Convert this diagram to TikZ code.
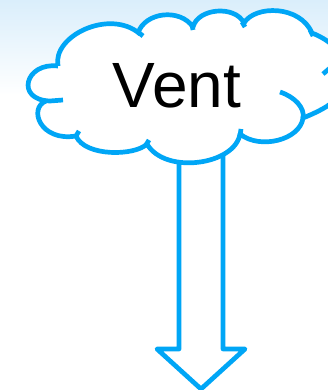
\documentclass[tikz,border=0pt]{standalone}
\usepackage{fontspec}
\setmainfont{Liberation Sans}
\definecolor{cloudblue}{RGB}{0,166,246}
\definecolor{skyblue}{RGB}{218,238,251}
\begin{document}
\begin{tikzpicture}[x=1pt,y=-1pt,
  cloudline/.style={draw=cloudblue, line width=4.7pt, line cap=butt, line join=round},
  arrowline/.style={draw=cloudblue, fill=white, line width=4.7pt, line join=round},
  labeltext/.style={font=\fontsize{64}{64}\selectfont, anchor=base, inner sep=0pt, text=black}]
\useasboundingbox (0,0) rectangle (328,390);
\clip (0,0) rectangle (328,390);
\fill[white] (0,0) rectangle (328,390);
\shade[top color=skyblue, bottom color=white] (0,0) rectangle (328,95);
% arrow
\coordinate (sl) at (179,150);
\coordinate (sr) at (223,150);
\filldraw[arrowline] (sl) -- (179,349) -- (157,349) -- (201,389) -- (245,349) -- (223,349) -- (sr);
% cloud fill
\fill[white]
  (58,66) .. controls (52,36) and (110,8) .. (140,34)
  -- (138,33) .. controls (145,12) and (180,8) .. (193,27)
  .. controls (198,8) and (235,5) .. (244,23)
  .. controls (255,5) and (300,5) .. (312,33)
  .. controls (335,42) and (350,60) .. (345,75)
  .. controls (345,95) and (335,105) .. (303,118)
  .. controls (300,140) and (260,150) .. (240,134)
  .. controls (235,165) and (165,175) .. (147,144)
  .. controls (135,156) and (85,157) .. (76,136)
  .. controls (40,142) and (28,108) .. (46,101)
  -- (50,101) .. controls (15,100) and (25,62) .. (58,66) -- cycle;
% cloud outline
\draw[cloudline]
  (58,66) .. controls (52,36) and (110,8) .. (140,34)
  (138,33) .. controls (145,12) and (180,8) .. (193,27)
  .. controls (198,8) and (235,5) .. (244,23)
  .. controls (255,5) and (300,5) .. (312,33)
  .. controls (335,42) and (350,60) .. (345,75)
  .. controls (345,95) and (335,105) .. (303,118)
  .. controls (300,140) and (260,150) .. (240,134)
  .. controls (235,165) and (165,175) .. (147,144)
  .. controls (135,156) and (85,157) .. (76,136)
  .. controls (40,142) and (28,108) .. (46,101)
  (63,100) -- (50,101) .. controls (15,100) and (25,62) .. (58,66);
% inner arcs and ticks
\draw[cloudline] (280,92) .. controls (295,97) and (305,108) .. (303,118);
\draw[cloudline] (323,74) -- (330,68);
\draw[cloudline] (138,32) -- (143,36);
\draw[cloudline] (192,25) -- (193,30);
\draw[cloudline] (242,22) -- (245,27);
\draw[cloudline] (310,30) -- (313,36);
\draw[cloudline] (240,136) -- (241,129);
\draw[cloudline] (146,145) -- (149,140);
\draw[cloudline] (76,136) -- (79,131);
\node[labeltext] (vent) at (177,108) {Vent};
\end{tikzpicture}
\end{document}
